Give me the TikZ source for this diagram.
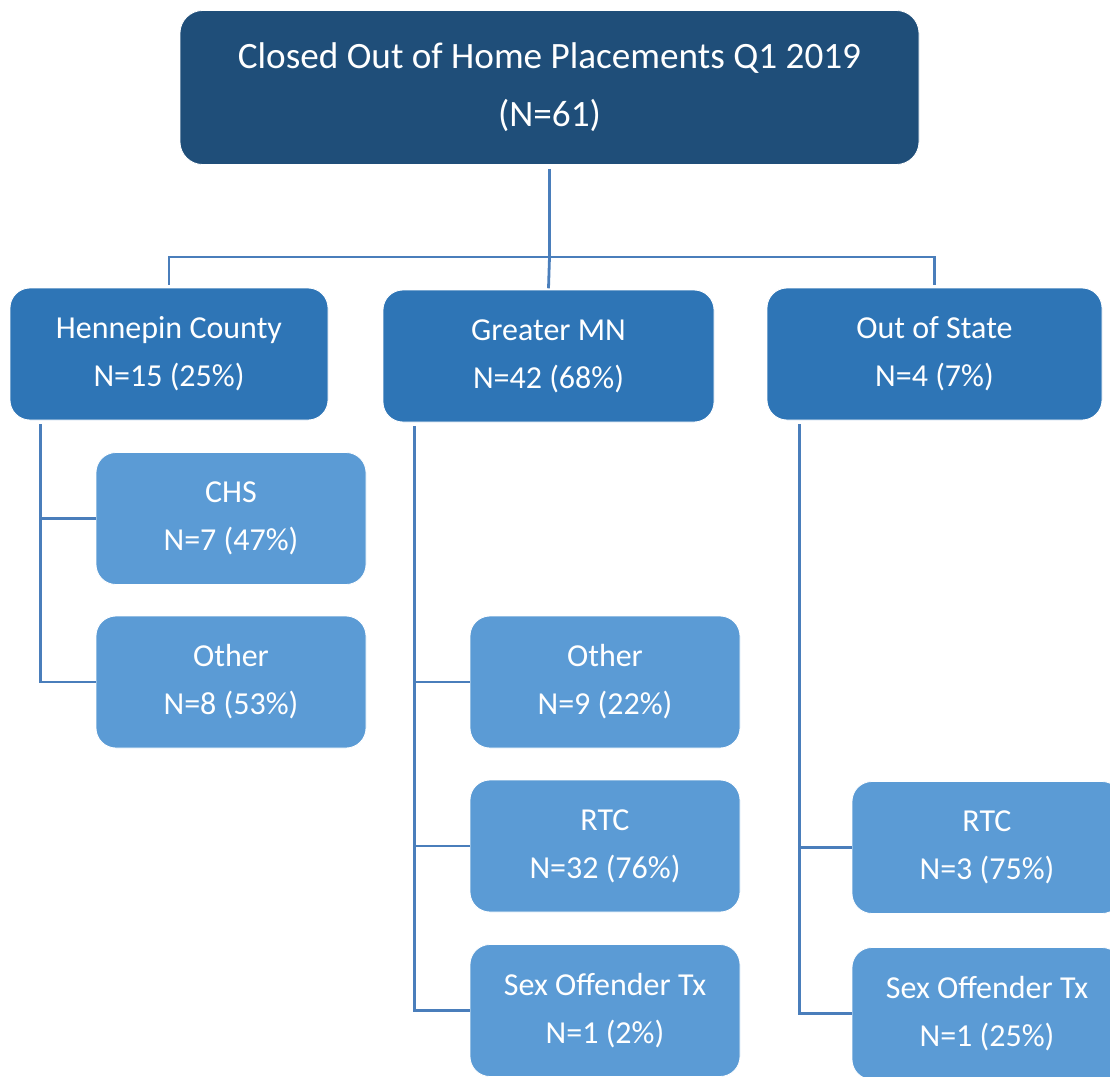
\documentclass[tikz,border=0pt]{standalone}
\usepackage{fontspec}
\setmainfont{Carlito}
\definecolor{topc}{HTML}{1F4E79}
\definecolor{midc}{HTML}{2E75B6}
\definecolor{leafc}{HTML}{5B9BD5}
\definecolor{linec}{HTML}{4A7EBB}
\begin{document}
\begin{tikzpicture}[x=0.75pt,y=-0.75pt,
  box/.style 2 args={minimum width=#1*0.75pt, minimum height=#2*0.75pt, inner sep=0pt,
    rounded corners=15pt, draw=white, line width=0.6pt, text=white, align=center},
  topbox/.style={box={739}{154}, fill=topc, rounded corners=17pt,
    font=\fontsize{27.9}{43.5}\selectfont},
  midbox/.style={box={#1}{132}, fill=midc, font=\fontsize{24}{36}\selectfont},
  leafbox/.style={box={270}{132}, fill=leafc, font=\fontsize{24}{36}\selectfont},
  conn/.style={draw=linec, line width=2.1pt}]
\useasboundingbox (0,0) rectangle (1110,1077);
\clip (0,0) rectangle (1110,1077);
% nodes
\node[topbox] (top) at (549.5,87.5) {Closed Out of Home Placements Q1 2019\\(N=61)};
\node[midbox=318] (hen) at (169,354) {Hennepin County\\N=15 (25\%)};
\node[midbox=331] (gmn) at (548.5,356) {Greater MN\\N=42 (68\%)};
\node[midbox=335] (oos) at (934.5,354) {Out of State\\N=4 (7\%)};
\node[leafbox] (chs) at (231,518.5) {CHS\\N=7 (47\%)};
\node[leafbox] (hoth) at (231,682) {Other\\N=8 (53\%)};
\node[leafbox] (goth) at (605,682) {Other\\N=9 (22\%)};
\node[leafbox] (grtc) at (605,846) {RTC\\N=32 (76\%)};
\node[leafbox] (gsex) at (605,1010.5) {Sex Offender Tx\\N=1 (2\%)};
\node[leafbox] (ortc) at (987,847.5) {RTC\\N=3 (75\%)};
\node[leafbox] (osex) at (987,1013.5) {Sex Offender Tx\\N=1 (25\%)};
\coordinate (bus) at (549,257);
% connectors
\draw[conn] ([yshift=-3pt]top.south) -- (top.south |- bus);
\draw[conn] ([yshift=2pt]hen.north) -- (hen.north |- bus) -- (oos.north |- bus) -- ([yshift=2pt]oos.north);
\draw[conn] (top.south |- bus) -- ([yshift=1pt]gmn.north);
\draw[conn] ([xshift=31*0.75pt,yshift=-3pt]hen.south west) |- (chs.west);
\draw[conn] ([xshift=31*0.75pt,yshift=-3pt]hen.south west) |- (hoth.west);
\draw[conn] ([xshift=32*0.75pt,yshift=-3pt]gmn.south west) |- (goth.west);
\draw[conn] ([xshift=32*0.75pt,yshift=-3pt]gmn.south west) |- (grtc.west);
\draw[conn] ([xshift=32*0.75pt,yshift=-3pt]gmn.south west) |- (gsex.west);
\draw[conn] ([xshift=33*0.75pt,yshift=-3pt]oos.south west) |- (ortc.west);
\draw[conn] ([xshift=33*0.75pt,yshift=-3pt]oos.south west) |- (osex.west);
\end{tikzpicture}
\end{document}
